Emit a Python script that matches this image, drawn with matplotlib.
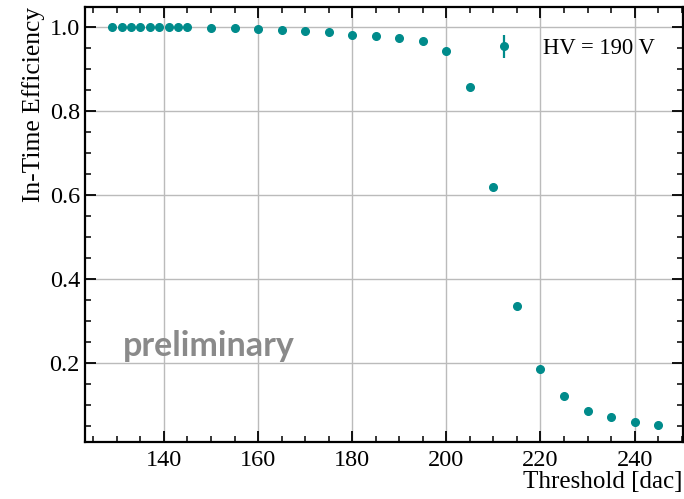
import matplotlib
matplotlib.use("Agg")
import matplotlib.pyplot as plt
from matplotlib.ticker import MultipleLocator

threshold = [129, 131, 133, 135, 137, 139, 141, 143, 145, 150, 155, 160, 165, 170,
             175, 180, 185, 190, 195, 200, 205, 210, 215, 220, 225, 230, 235, 240, 245]
efficiency = [1.0, 1.0, 1.0, 1.0, 1.0, 1.0, 1.0, 1.0, 1.0, 0.998, 0.998, 0.995, 0.994, 0.990,
              0.988, 0.982, 0.979, 0.974, 0.966, 0.944, 0.858, 0.620, 0.335, 0.186, 0.121,
              0.087, 0.071, 0.060, 0.052]
efficiency_err = [0.001, 0.001, 0.001, 0.001, 0.001, 0.001, 0.001, 0.001, 0.001, 0.001, 0.001,
                  0.001, 0.001, 0.001, 0.001, 0.002, 0.002, 0.002, 0.002, 0.003, 0.004, 0.005,
                  0.005, 0.004, 0.003, 0.003, 0.003, 0.002, 0.002]
series_label = "HV = 190 V"

plt.rcParams['font.family'] = ['Liberation Serif', 'DejaVu Serif']
plt.rcParams['mathtext.fontset'] = 'stix'

fig = plt.figure(figsize=(6.84, 4.99), dpi=100)
ax = fig.add_axes([0.124, 0.114, 0.874, 0.872])

ax.errorbar(threshold, efficiency, yerr=efficiency_err, fmt='o', color='darkcyan',
            ms=5.5, elinewidth=1.6, capsize=0, label=series_label, zorder=3)

ax.set_xlim(123.2, 250.2)
ax.set_ylim(0.012, 1.048)
ax.xaxis.set_major_locator(MultipleLocator(20))
ax.xaxis.set_minor_locator(MultipleLocator(5))
ax.yaxis.set_major_locator(MultipleLocator(0.2))
ax.yaxis.set_minor_locator(MultipleLocator(0.05))
ax.tick_params(which='both', direction='in', top=True, right=True, labelsize=17.5)
ax.tick_params(axis='x', which='both', pad=6)
ax.tick_params(which='major', length=8, width=1.3)
ax.tick_params(which='minor', length=4.5, width=1.1)
for s in ax.spines.values():
    s.set_linewidth(1.6)
ax.grid(True, which='major', color='#bbbbbb', linewidth=1.0, zorder=0)
ax.set_axisbelow(True)

ax.set_xlabel("Threshold [dac]", fontsize=18, loc='right', labelpad=0)
ax.set_ylabel("In-Time Efficiency", fontsize=18.4, loc='top', labelpad=3)

leg = ax.legend(loc='center', bbox_to_anchor=(0.816, 0.904), frameon=False,
                fontsize=16.3, handlelength=1.2, handletextpad=1.1,
                borderpad=0.3, borderaxespad=0)

ax.text(0.064, 0.198, "preliminary", transform=ax.transAxes, fontsize=24.5,
        fontweight='bold', color='#8a8a8a', family=['Lato', 'DejaVu Sans'],
        va='baseline')

fig.savefig("out.png", dpi=100)
